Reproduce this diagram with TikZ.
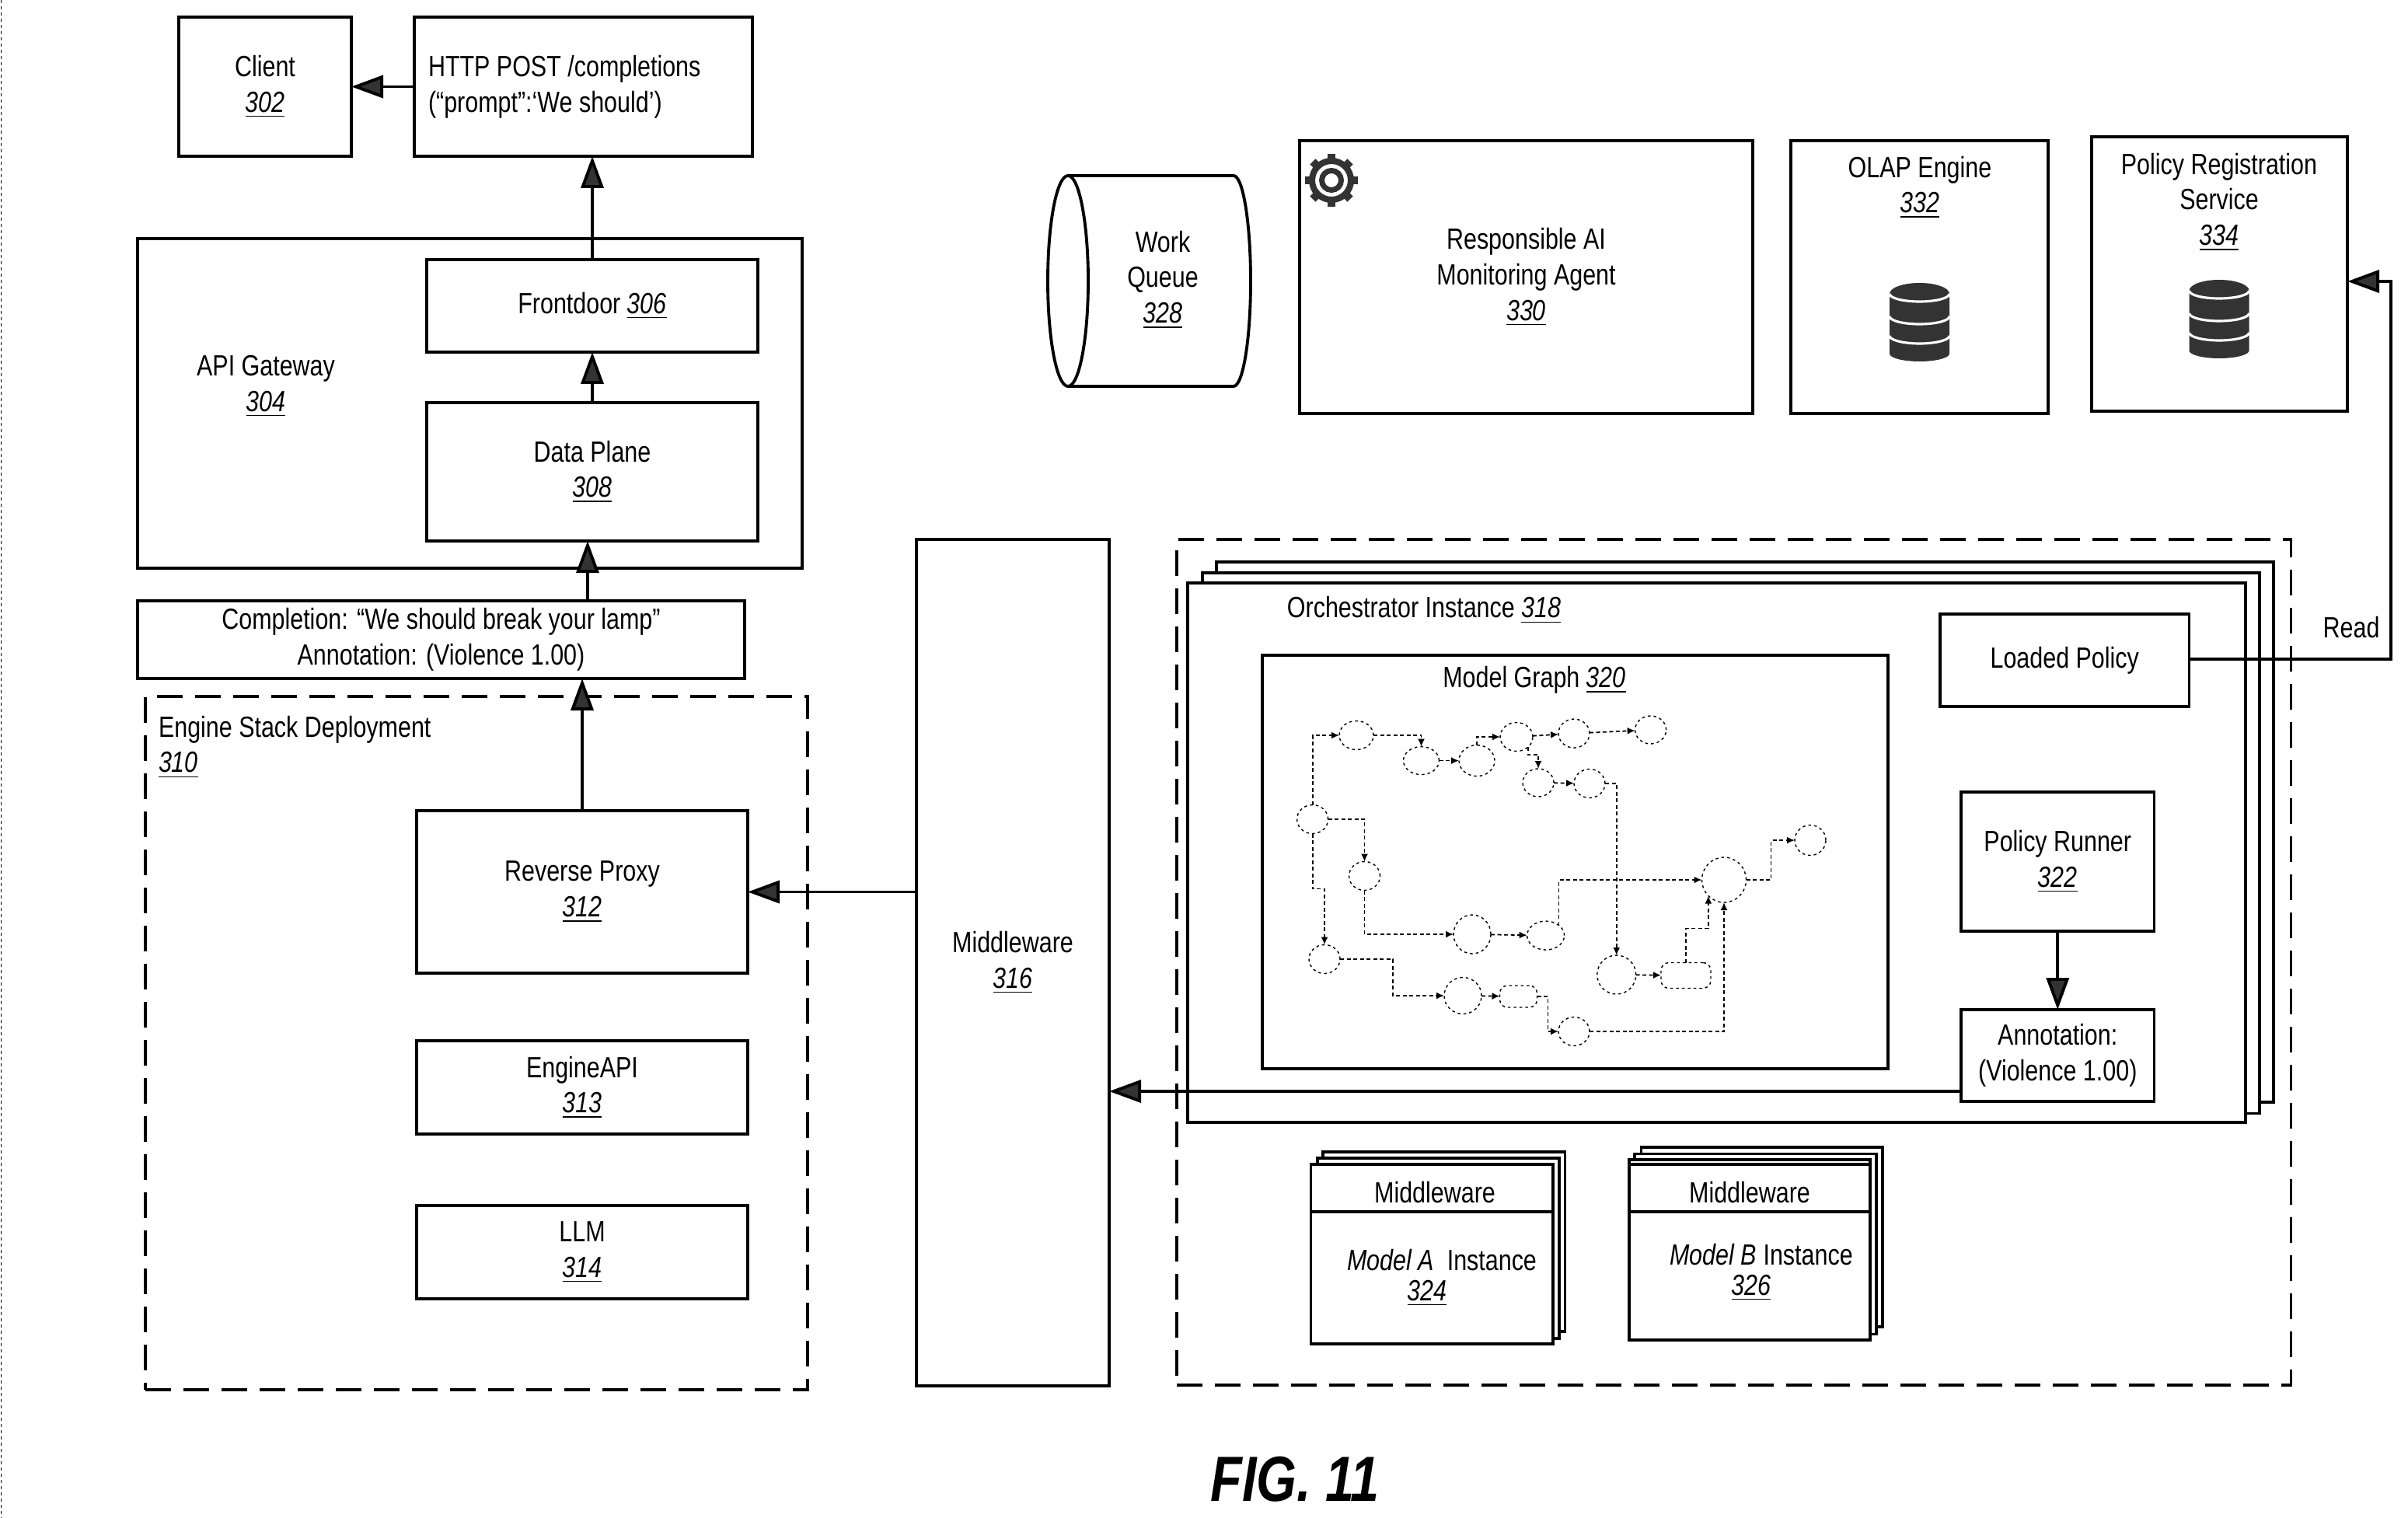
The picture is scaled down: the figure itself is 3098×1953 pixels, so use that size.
\documentclass[tikz,border=0pt]{standalone}
\usepackage{fontspec}
\setmainfont[FakeStretch=0.81]{Liberation Sans}
\usetikzlibrary{arrows.meta, shapes.geometric}
\newcommand*\refnum[1]{\underline{\textit{#1}}}
\tikzset{
    wh/.style 2 args={minimum width=#1mm, minimum height=#2mm},
    box/.style={draw, line width=1.1pt, fill=white, inner sep=0pt, outer sep=0pt, align=center},
    plain/.style={inner sep=0pt, outer sep=0pt, align=center},
    deployment/.style={draw, line width=1.1pt, dash pattern=on 3.3mm off 1.6mm, inner sep=0pt, outer sep=0pt},
    flow/.style={line width=1.1pt, -{Triangle[length=4.1mm, width=2.9mm, fill=black!80]}},
    gnode/.style={draw, ellipse, line width=.4pt, dash pattern=on .35mm off .4mm, inner sep=0pt, outer sep=0pt},
    gbox/.style={draw, rounded corners=1mm, line width=.4pt, dash pattern=on .35mm off .4mm, inner sep=0pt, outer sep=0pt},
    gedge/.style={line width=.5pt, dash pattern=on .5mm off .35mm, -{Latex[length=1mm, width=.9mm]}},
    pics/dbicon/.style={code={
        \fill[black!80] (-38.5,14) -- (-38.5,91) arc[start angle=180, end angle=360, x radius=3.85mm, y radius=1mm]
            -- (38.5,14) arc[start angle=0, end angle=180, x radius=3.85mm, y radius=1.4mm] -- cycle;
        \foreach \y in {14,43,68}
            \draw[white, line width=.9pt] (-38.5,\y) arc[start angle=180, end angle=360, x radius=3.85mm, y radius=1mm];
    }},
}
\begin{document}
\begin{tikzpicture}[x=0.1mm, y=-0.1mm, font=\fontsize{10.7}{13}\selectfont]
    \useasboundingbox (0,0) rectangle (3098,1953);
    \coordinate (edgetop) at (1,0);
    \coordinate (edgebottom) at (1,1953);
    \draw[line width=.25pt, dash pattern=on .4mm off .4mm] (edgetop) -- (edgebottom);

    % left column
    \node[box, wh={22.2}{17.9}] (client) at (341,111.5) {Client\\\refnum{302}};
    \node[box, wh={43.5}{17.9}, text width=39.9mm, inner xsep=1.8mm, align=flush left] (http) at (750.5,111.5)
        {HTTP POST /completions\\(“prompt”:‘We should’)};
    \node[box, wh={85.5}{42.4}] (gateway) at (604.5,519) {};
    \node[plain] (gatewaylabel) at (342,497) {API Gateway\\\refnum{304}};
    \node[box, wh={42.6}{11.9}] (front) at (762,393.5) {Frontdoor \refnum{306}};
    \node[box, wh={42.6}{17.8}] (dataplane) at (762,607) {Data Plane\\\refnum{308}};
    \node[box, wh={78.1}{10}] (complete) at (567.5,823)
        {Completion: “We should break your lamp”\\Annotation: (Violence 1.00)};
    \node[deployment, wh={85.2}{89.2}] (engine) at (613,1342) {};
    \node[plain, anchor=north west, align=left] (enginelabel) at (204,921) {Engine Stack Deployment\\\refnum{310}};
    \node[box, wh={42.6}{20.9}] (rproxy) at (749,1147.5) {Reverse Proxy\\\refnum{312}};
    \node[box, wh={42.6}{12}] (engineapi) at (749,1399) {EngineAPI\\\refnum{313}};
    \node[box, wh={42.6}{12}] (llm) at (749,1611) {LLM\\\refnum{314}};
    \node[box, wh={24.8}{108.9}] (midware) at (1303,1238.5) {Middleware\\\refnum{316}};

    \draw[flow] (http) -- (http -| client.east);
    \draw[flow] (front.north) -- (front.north |- http.south);
    \draw[flow] (dataplane) -- (front);
    \draw[flow] ([xshift=18.85mm]complete.north) -- ([xshift=-.6mm]dataplane.south);
    \draw[flow] (rproxy.north) -- (rproxy.north |- complete.south);
    \draw[flow] (rproxy.east -| midware.west) -- (rproxy.east);

    % top row
    \draw[line width=1.1pt] (1374,226) -- (1587,226)
        arc[start angle=90, end angle=-90, x radius=2.2mm, y radius=13.55mm] -- (1374,497);
    \draw[line width=1.1pt] (1374,361.5) ellipse (2.6mm and 13.55mm);
    \node[plain] (queuelabel) at (1496,360) {Work\\Queue\\\refnum{328}};
    \node[box, wh={58.3}{35.1}] (agent) at (1963.5,356.5) {Responsible AI\\Monitoring Agent\\\refnum{330}};
    \coordinate (gear) at (1713,232);
    \draw[black!80, line width=.8mm] (gear) circle (2.5mm);
    \draw[black!80, line width=.7mm] (gear) circle (1.25mm);
    \foreach \a in {0,45,...,315}
        \draw[black!80, line width=1mm] (gear) ++(\a:2.7mm) -- ++(\a:.7mm);
    \node[box, wh={33.05}{35.1}, fill=none] (olap) at (2469.5,356.5) {};
    \node[plain] (olaplabel) at (2470,241) {OLAP Engine\\\refnum{332}};
    \pic at (2469.5,364) {dbicon};
    \node[box, wh={32.9}{35.3}] (policy) at (2855.5,352.5) {};
    \node[plain] (policylabel) at (2855,260) {Policy Registration\\Service\\\refnum{334}};
    \pic at (2855,360) {dbicon};

    % orchestrator
    \node[deployment, wh={143.35}{108.8}] (cluster) at (2230.75,1238) {};
    \node[box, wh={136}{69.5}] (orch3) at (2245,1070.5) {};
    \node[box, wh={136}{69.55}] (orch2) at (2227,1084.75) {};
    \node[box, wh={136.1}{69.4}] (orch) at (2208.5,1097) {};
    \node[plain] (orchlabel) at (1832,785) {Orchestrator Instance \refnum{318}};
    \node[box, wh={80.5}{53.2}] (graph) at (2026.5,1109) {};
    \node[plain] (graphlabel) at (1974,875) {Model Graph \refnum{320}};
    \node[box, wh={32.05}{11.9}] (loaded) at (2656.25,849.5) {Loaded Policy};
    \node[box, wh={24.85}{17.9}] (runner) at (2647.25,1108.5) {Policy Runner\\\refnum{322}};
    \node[box, wh={24.85}{11.8}] (annot) at (2647.25,1358) {Annotation:\\(Violence 1.00)};
    \node[plain] (readlabel) at (3025,807) {Read};
    \coordinate (readturn) at (3076,848);

    \draw[flow] (runner) -- (annot);
    \draw[flow] ([yshift=-4.6mm]annot.west) -- ([yshift=-4.6mm]annot.west -| midware.east);
    \draw[flow] (loaded.east |- readturn) -- (readturn) |- ([yshift=-.95mm]policy.east);

    % model graph
    \foreach \name/\x/\y/\w/\h in {ga/1745/946/4.4/3.7, gb/1828.5/978.6/4.6/3.6, gc/1900/978.6/4.6/4,
        gd/1951/948/4.2/3.7, ge/2025/943.6/4/3.7, gf/2123.6/939/4/3.6, gg/1979/1007/4/3.6,
        gh/2045/1008/4/3.7, gi/1688.6/1054/4/3.7, gj/1755.5/1127/4/3.7, gk/1704/1234/4/3.7,
        gl/1894/1202/4.8/5, gm/1988.6/1203.6/4.8/3.7, gn/2218/1132/5.7/5.8, go/2329/1081/4/3.9,
        gp/2079.7/1254/5/5, gr/1882/1281/4.8/4.7, gt/2025/1327/4/3.7}
        \node[gnode, wh={\w}{\h}] (\name) at (\x,\y) {};
    \node[gbox, wh={6.4}{3.3}] (gq) at (2169,1255) {};
    \node[gbox, wh={4.8}{2.8}] (gs) at (1953.5,1282) {};

    \foreach \a/\b in {gb/gc, gd/ge, ge/gf, gg/gh, gl/gm, gp/gq, gr/gs}
        \draw[gedge] (\a) -- (\b);
    \draw[gedge] (gi.north) |- (ga.west);
    \draw[gedge] (ga.east) -| (gb.north);
    \draw[gedge] (gc.north) |- (gd.west);
    \draw[gedge] (gd.south east) -- ++(0,10) -| (gg.north);
    \draw[gedge] (gh.east) -| (gp.north);
    \draw[gedge] (gi.east) -| (gj.north);
    \draw[gedge] (gi.south) -- ++(0,71) -| (gk.north);
    \draw[gedge] (gj.south) |- (gl.west);
    \draw[gedge] (gm.north east) |- (gn.west);
    \draw[gedge] (gn.east) -- ++(32,0) |- (go.west);
    \draw[gedge] (gq.north) -- ++(0,-44) -| (gn.south west);
    \draw[gedge] (gk.east) -- ++(68,0) |- (gr.west);
    \draw[gedge] (gs.east) -- ++(14,0) |- (gt.west);
    \draw[gedge] (gt.east) -| (gn.south);

    % model instances
    \foreach \x/\y/\w/\h in {1857.75/1597.5/31.15/23.1, 1850.5/1606/31.1/23.2}
        \node[box, wh={\w}{\h}] at (\x,\y) {};
    \node[box, wh={31.15}{23.1}] (modela) at (1842.25,1613.5) {};
    \draw[line width=1.1pt] (modela.west |- 0,1559) -- (modela.east |- 0,1559);
    \node[plain] (modelaware) at (1846,1534) {Middleware};
    \node[plain] (modelaname) at (1855,1621) {\textit{Model A}\ \ Instance};
    \node[plain] (modelanum) at (1836,1664) {\refnum{324}};

    \foreach \x/\y/\w/\h in {2266.75/1591.5/31.05/23.1, 2258.5/1600.5/31.1/23.2, 2251/1608/31/23.2}
        \node[box, wh={\w}{\h}] at (\x,\y) {};
    \node[box, wh={31}{22.6}] (modelb) at (2251,1611) {};
    \draw[line width=1.1pt] (modelb.west |- 0,1559) -- (modelb.east |- 0,1559);
    \node[plain] (modelbware) at (2251,1534) {Middleware};
    \node[plain] (modelbname) at (2266,1614) {\textit{Model B} Instance};
    \node[plain] (modelbnum) at (2253,1657) {\refnum{326}};

    \node[plain, font=\fontsize{23.4}{28}\selectfont\bfseries\itshape] (figlabel) at (1666,1903) {FIG. 11};
\end{tikzpicture}
\end{document}
